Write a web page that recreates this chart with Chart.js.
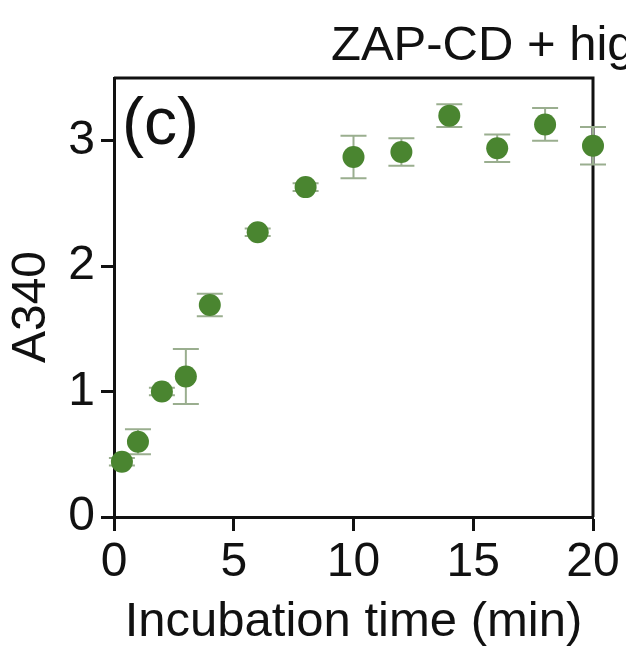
<!DOCTYPE html>
<html>
<head>
<meta charset="utf-8">
<script src="https://cdn.jsdelivr.net/npm/chart.js@4.4.1/dist/chart.umd.min.js"></script>
<style>
  html, body { margin: 0; padding: 0; background: #fff; overflow: hidden; }
</style>
</head>
<body>
<canvas id="chart" width="626" height="654"></canvas>
<script>
// values
const times = [0.33, 1, 2, 3, 4, 6, 8, 10, 12, 14, 16, 18, 20];
const a340 = [0.44, 0.60, 1.00, 1.12, 1.69, 2.27, 2.63, 2.87, 2.91, 3.20, 2.94, 3.13, 2.96];
const a340Err = [0.03, 0.10, 0.03, 0.22, 0.09, 0.03, 0.03, 0.17, 0.11, 0.09, 0.11, 0.13, 0.15];
const xTicks = [0, 5, 10, 15, 20];
const yTicks = [0, 1, 2, 3];
const panelTitle = 'ZAP-CD + hig';
const panelLabel = '(c)';
const xTitle = 'Incubation time (min)';
const yTitle = 'A340';

const FONT = "'Liberation Sans', Arial, Helvetica, sans-serif";
const INK = '#111';
const GREEN = '#4a8530';
const BAR = '#9aae8f';

// error bars + top/right frame lines, drawn under the points
const errorBars = {
  id: 'errorBars',
  beforeDatasetsDraw(chart) {
    const { ctx, chartArea: a, scales: { x, y } } = chart;
    ctx.save();
    ctx.strokeStyle = INK;
    ctx.lineWidth = 3;
    ctx.beginPath();
    ctx.moveTo(a.left, a.top);
    ctx.lineTo(a.right, a.top);
    ctx.lineTo(a.right, a.bottom);
    ctx.stroke();

    ctx.strokeStyle = BAR;
    ctx.lineWidth = 2;
    times.forEach((t, i) => {
      const px = x.getPixelForValue(t);
      const hi = y.getPixelForValue(a340[i] + a340Err[i]);
      const lo = y.getPixelForValue(a340[i] - a340Err[i]);
      ctx.beginPath();
      ctx.moveTo(px, hi); ctx.lineTo(px, lo);
      ctx.moveTo(px - 13, hi); ctx.lineTo(px + 13, hi);
      ctx.moveTo(px - 13, lo); ctx.lineTo(px + 13, lo);
      ctx.stroke();
    });
    ctx.restore();
  }
};

// panel title (cut at the right edge), panel letter and y title
const labels = {
  id: 'labels',
  afterDraw(chart) {
    const { ctx, chartArea: a } = chart;
    ctx.save();
    ctx.fillStyle = INK;
    ctx.textBaseline = 'alphabetic';
    ctx.textAlign = 'left';
    ctx.font = '49px ' + FONT;
    ctx.fillText(panelTitle, 331, 60);
    ctx.font = '66px ' + FONT;
    ctx.fillText(panelLabel, a.left + 8, 144);

    ctx.translate(32, 307);
    ctx.rotate(-Math.PI / 2);
    ctx.textAlign = 'center';
    ctx.textBaseline = 'middle';
    ctx.font = '48px ' + FONT;
    ctx.fillText(yTitle, 0, 0);
    ctx.restore();
  }
};

new Chart(document.getElementById('chart'), {
  type: 'scatter',
  data: {
    datasets: [{
      data: times.map((t, i) => ({ x: t, y: a340[i] })),
      backgroundColor: GREEN,
      borderWidth: 0,
      pointRadius: 11,
      pointHoverRadius: 11,
      clip: false
    }]
  },
  options: {
    responsive: false,
    devicePixelRatio: 1,
    animation: false,
    layout: { padding: { top: 78, right: 33, bottom: 0, left: 0 } },
    plugins: {
      legend: { display: false },
      tooltip: { enabled: false }
    },
    scales: {
      x: {
        type: 'linear',
        min: 0,
        max: 20,
        afterBuildTicks: s => { s.ticks = xTicks.map(v => ({ value: v })); },
        afterFit: s => { s.height = 137; },
        grid: { drawOnChartArea: false, drawTicks: true, tickLength: 14, tickWidth: 3, tickColor: INK },
        border: { display: true, width: 3, color: INK },
        ticks: { color: INK, font: { family: FONT, size: 48 }, padding: 3, maxRotation: 0, autoSkip: false },
        title: { display: true, text: xTitle, color: INK, font: { family: FONT, size: 49 }, padding: { top: 0, bottom: 2 } }
      },
      y: {
        type: 'linear',
        min: 0,
        max: 3.5,
        afterBuildTicks: s => { s.ticks = yTicks.map(v => ({ value: v })); },
        afterFit: s => { s.width = 114; },
        grid: { drawOnChartArea: false, drawTicks: true, tickLength: 13, tickWidth: 3, tickColor: INK },
        border: { display: true, width: 3, color: INK },
        ticks: { color: INK, font: { family: FONT, size: 48 }, padding: 6 }
      }
    }
  },
  plugins: [errorBars, labels]
});
</script>
</body>
</html>
